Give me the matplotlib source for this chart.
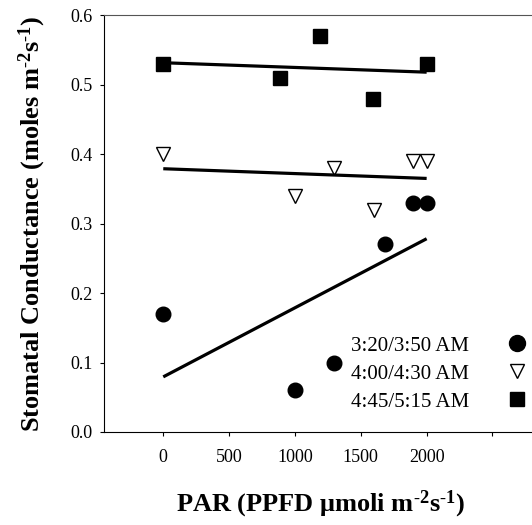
import numpy as np
import matplotlib
matplotlib.use('Agg')
import matplotlib.pyplot as plt
from matplotlib.lines import Line2D

plt.rcParams['font.family'] = 'Liberation Serif'
plt.rcParams['mathtext.fontset'] = 'custom'
plt.rcParams['mathtext.rm'] = 'Liberation Serif'
plt.rcParams['mathtext.bf'] = 'Liberation Serif:bold'
plt.rcParams['mathtext.default'] = 'bf'

# ---- data ----
par_early = [0, 1000, 1300, 1680, 1900, 2000]
gs_early = [0.17, 0.06, 0.10, 0.27, 0.33, 0.33]

par_mid = [0, 1000, 1300, 1600, 1900, 2000]
gs_mid = [0.40, 0.34, 0.38, 0.32, 0.39, 0.39]

par_late = [0, 890, 1190, 1590, 2000]
gs_late = [0.53, 0.51, 0.57, 0.48, 0.53]

labels = ['3:20/3:50 AM', '4:00/4:30 AM', '4:45/5:15 AM']
x_ticks = [0, 500, 1000, 1500, 2000, 2500]
x_tick_labels = ['0', '500', '1000', '1500', '2000', '']
y_ticks = [0.0, 0.1, 0.2, 0.3, 0.4, 0.5, 0.6]

fig = plt.figure(figsize=(5.32, 5.25), dpi=100)
ax = fig.add_axes([104 / 532, 93 / 525, 428 / 532, 416.7 / 525])

# scatter points
ax.plot(par_early, gs_early, 'o', color='black', markersize=10.5, clip_on=False)
ax.plot(par_mid, gs_mid, 'v', markerfacecolor='white', markeredgecolor='black',
        markeredgewidth=1.0, markersize=9.5, clip_on=False)
ax.plot(par_late, gs_late, 's', color='black', markersize=9.6, clip_on=False)

# linear regression lines
for xs, ys in [(par_early, gs_early), (par_mid, gs_mid), (par_late, gs_late)]:
    slope, icpt = np.polyfit(xs, ys, 1)
    xx = np.array([min(xs), max(xs)])
    ax.plot(xx, slope * xx + icpt, color='black', lw=2.3, solid_capstyle='butt')

ax.set_xlim(-450, 2800)
ax.set_ylim(0, 0.6)
ax.set_xticks(x_ticks)
ax.set_xticklabels(x_tick_labels)
ax.set_yticks(y_ticks)
ax.set_yticklabels(['%.1f' % v for v in y_ticks])
ax.tick_params(direction='out', length=3, width=0.8, labelsize=13)
ax.tick_params(axis='x', pad=9)
ax.tick_params(axis='y', pad=5)
ax.xaxis.get_major_ticks()[5].tick1line.set_color('#b0b0b0')
ax.spines['right'].set_visible(False)
ax.spines['top'].set_color('#555555')

ax.set_xlabel(r'PAR (PPFD μmoli m$^{\text{-}2}$s$^{\text{-}1}$)', fontsize=19,
              fontweight='bold')
ax.set_ylabel(r'Stomatal Conductance (moles m$^{\text{-}2}$s$^{\text{-}1}$)',
              fontsize=19, fontweight='bold')
ax.xaxis.set_label_coords(0.505, -0.135)
ax.yaxis.set_label_coords(-0.13, 0.5)

handles = [
    Line2D([], [], marker='o', ls='', color='black', markersize=11.5),
    Line2D([], [], marker='v', ls='', markerfacecolor='white',
           markeredgecolor='black', markersize=10),
    Line2D([], [], marker='s', ls='', color='black', markersize=10.5),
]
ax.legend(handles, labels, loc='upper right', bbox_to_anchor=(0.99, 0.23),
          frameon=False, markerfirst=False, fontsize=15, labelspacing=0.4,
          handlelength=1.0, handletextpad=1.8, borderpad=0, borderaxespad=0)

fig.savefig('out.png', dpi=100)
